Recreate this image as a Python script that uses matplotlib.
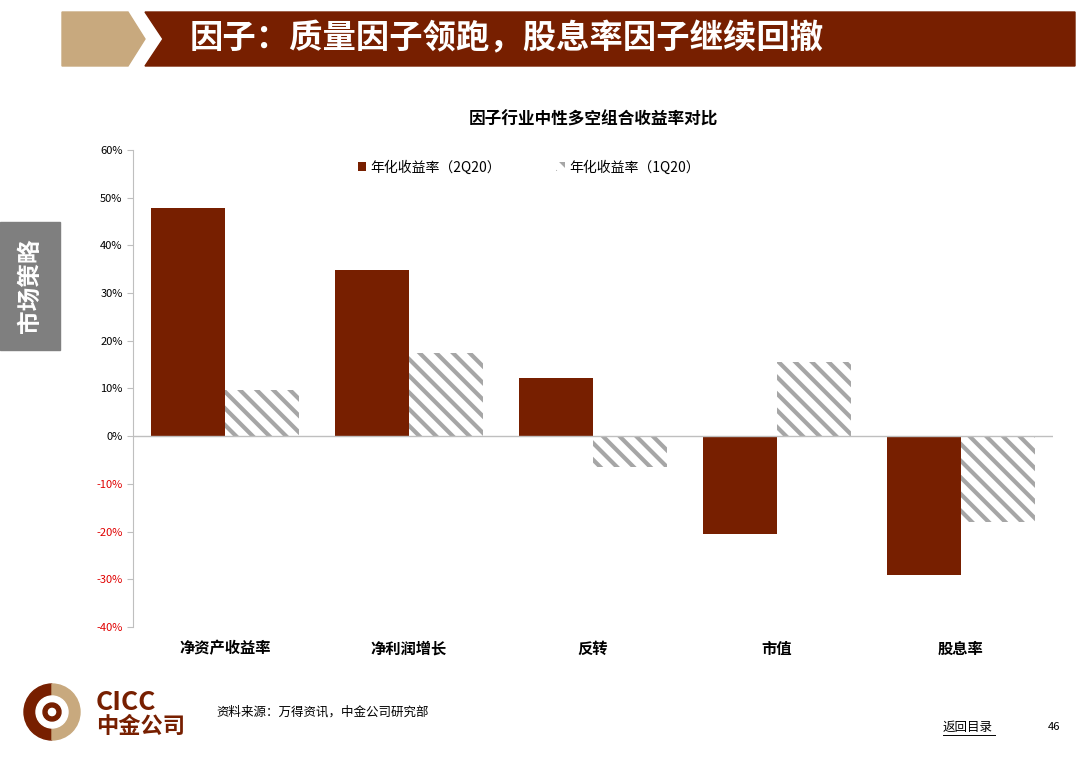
import numpy as np
import matplotlib.pyplot as plt
from matplotlib.patches import Polygon, Rectangle, Wedge, Circle

plt.rcParams['font.family'] = ['Noto Sans CJK SC', 'DejaVu Sans']
plt.rcParams['hatch.linewidth'] = 3

categories = ['净资产收益率', '净利润增长', '反转', '市值', '股息率']
ret_2q20 = [47.8, 34.8, 12.3, -20.6, -29.1]
ret_1q20 = [9.7, 17.5, -6.5, 15.5, -18.0]
yticks = [-40, -30, -20, -10, 0, 10, 20, 30, 40, 50, 60]

RED = '#771f00'
TAN = '#c8a97e'

fig = plt.figure(figsize=(10.9, 7.61), dpi=100)
W, H = 1090, 761

# header
bg = fig.add_axes([0, 0, 1, 1]); bg.set_axis_off()
bg.set_xlim(0, W); bg.set_ylim(H, 0)
bg.add_patch(Polygon([(62, 12), (128, 12), (145, 39), (128, 66), (62, 66)], color=TAN))
bg.add_patch(Polygon([(145, 12), (1075, 12), (1075, 66), (145, 66), (163, 39)], color=RED))
bg.text(190, 39, '因子：质量因子领跑，股息率因子继续回撤', color='white', fontsize=24,
        fontweight='bold', va='center', ha='left')
# side tab
bg.add_patch(Rectangle((0, 222), 60, 128, color='#7f7f7f'))
bg.text(30, 286, '市场策略', color='white', fontsize=17, fontweight='bold',
        ha='center', va='center', rotation=90)
# logo
bg.add_patch(Wedge((52, 712), 28, 90, 270, width=12, color=RED))
bg.add_patch(Wedge((52, 712), 28, -90, 90, width=12, color=TAN))
bg.add_patch(Circle((52, 712), 16, color='white'))
bg.add_patch(Wedge((52, 712), 9, 0, 360, width=4, color=RED))
bg.text(96, 702, 'CICC', color=RED, fontsize=19, fontweight='bold', va='center')
bg.text(96, 726, '中金公司', color=RED, fontsize=16, fontweight='bold', va='center')
bg.text(216, 712, '资料来源：万得资讯，中金公司研究部', fontsize=9, va='center')
bg.text(943, 727, '返回目录', fontsize=9, va='center')
bg.plot([943, 995], [735, 735], color='black', lw=0.7)
bg.text(1048, 727, '46', fontsize=8, va='center')

ax = fig.add_axes([0.122, 0.176, 0.844, 0.627])
x = np.arange(len(categories))
w = 0.4
ax.bar(x - w / 2, ret_2q20, w, color=RED, label='年化收益率（2Q20）')
ax.bar(x + w / 2, ret_1q20, w, color='white', edgecolor='#a6a6a6', hatch='\\\\', lw=0,
       label='年化收益率（1Q20）')
ax.set_xlim(-0.5, len(categories) - 0.5)
ax.set_ylim(-40, 60)
ax.set_yticks(yticks)
ax.set_yticklabels([f'{v}%' for v in yticks], fontsize=8)
for t, v in zip(ax.get_yticklabels(), yticks):
    if v < 0:
        t.set_color('#e00000')
ax.set_xticks([])
for i, c in enumerate(categories):
    ax.text(i, -44.5, c, ha='center', va='center', fontsize=11, fontweight='bold')
ax.axhline(0, color='#bfbfbf', lw=1)
for s in ['top', 'right', 'bottom']:
    ax.spines[s].set_visible(False)
ax.spines['left'].set_color('#bfbfbf')
ax.tick_params(axis='y', length=4, color='#bfbfbf')
ax.set_title('因子行业中性多空组合收益率对比', fontsize=12, fontweight='bold', pad=18)
ax.legend(loc='upper center', ncol=2, frameon=False, fontsize=10, handlelength=0.6,
          handleheight=0.6, handletextpad=0.3, columnspacing=4, bbox_to_anchor=(0.43, 1.005))

fig.savefig('out.png', dpi=100)
